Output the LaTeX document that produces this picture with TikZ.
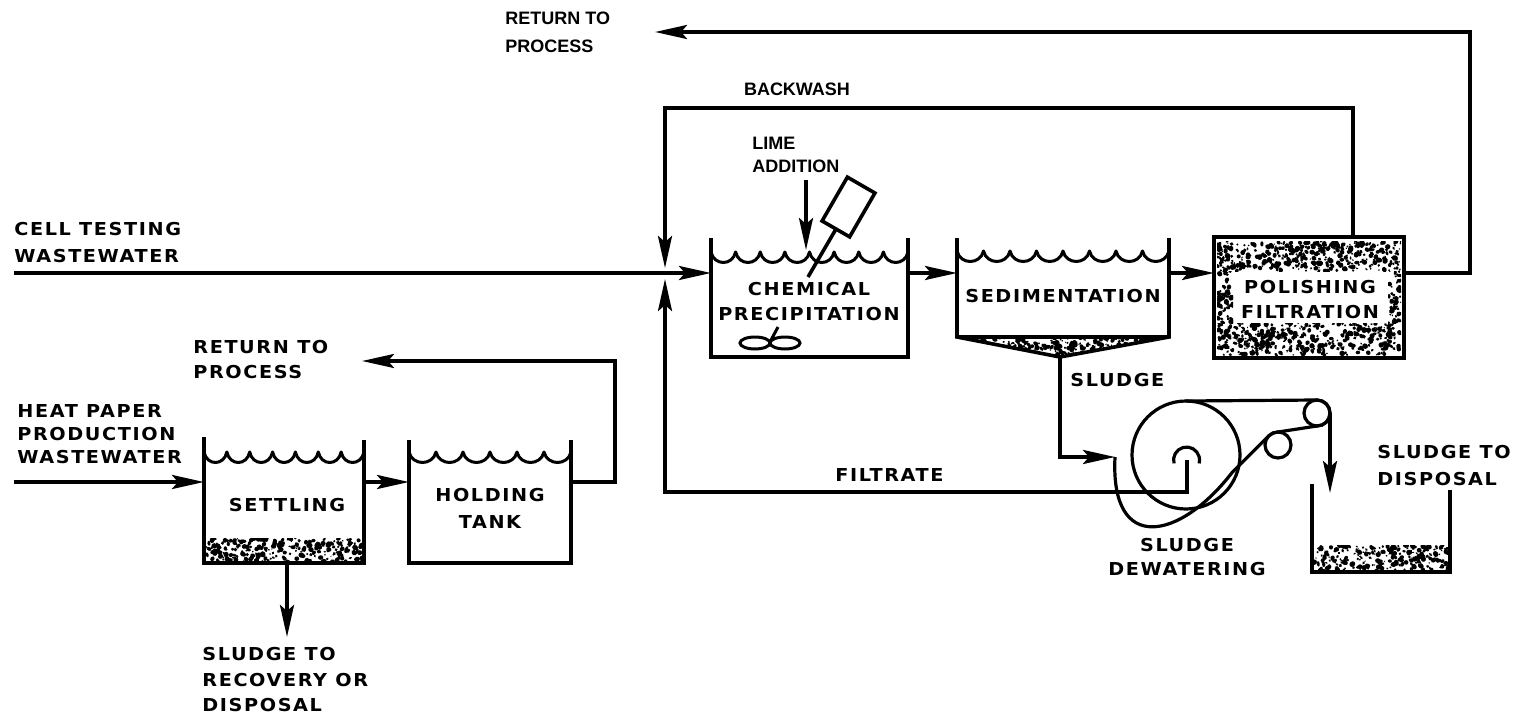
\documentclass[tikz,border=0pt]{standalone}
\usepackage{fontspec}
\usetikzlibrary{arrows.meta}
\newfontfamily\widefont{DejaVu Sans}[FakeStretch=1.08,LetterSpace=9]
\newfontfamily\plainfont{Liberation Sans}

% scalloped water surface: x0, x1, y of the cusps, number of scallops
\newcommand\wave[4]{%
  \foreach \i in {1,...,#4}{%
    \pgfmathsetmacro\wa{#1+(\i-1)*(#2-#1)/#4}%
    \pgfmathsetmacro\wb{#1+\i*(#2-#1)/#4}%
    \pgfmathsetmacro\wd{(#2-#1)/#4}%
    \draw[wavy] (\wa,#3) .. controls (\wa+0.12*\wd,#3+14) and (\wb-0.12*\wd,#3+14) .. (\wb,#3);
  }}

% speckled sludge / filter media: clip path, x0, y0, x1, y1, density
\newcommand\speckle[6]{%
  \begin{scope}
    \clip #1;
    \pgfmathtruncatemacro\cnt{#6*(#4-#2)*(#5-#3)}%
    \foreach \k in {1,...,\cnt}{%
      \pgfmathsetmacro\sx{#2+rnd*(#4-#2)}%
      \pgfmathsetmacro\sy{#3+rnd*(#5-#3)}%
      \pgfmathsetmacro\sr{0.8+2.0*rnd}%
      \pgfmathsetmacro\sq{0.5+0.8*rnd}%
      \pgfmathsetmacro\sa{360*rnd}%
      \fill[rotate around={\sa:(\sx,\sy)}] (\sx,\sy) ellipse[x radius=\sr,y radius=\sr*\sq];
    }
  \end{scope}}

\begin{document}
\begin{tikzpicture}[x=0.5pt,y=-0.5pt,
  pipe/.style={line width=1.8pt,line join=miter},
  flow/.style={pipe,-{Stealth[length=16pt,width=7pt,inset=3pt]}},
  wall/.style={line width=1.8pt,line join=miter},
  wavy/.style={line width=1.5pt,line cap=round},
  belt/.style={line width=1.6pt,line join=round},
  lbl/.style={font=\widefont\bfseries\fontsize{8.9}{12.5}\selectfont,align=left,inner sep=0pt,anchor=north west},
  clbl/.style={lbl,align=center,anchor=north},
  nlbl/.style={font=\plainfont\bfseries\fontsize{9}{14}\selectfont,align=left,inner sep=0pt,anchor=north west}]
\pgfmathsetseed{7}
\path[use as bounding box] (0,0) rectangle (1531,722);

% ---------- ports and bends ----------
\coordinate (cellIn) at (14,273);
\coordinate (chemIn) at (711,273);
\coordinate (chemOut) at (908,273);
\coordinate (sedIn) at (957,273);
\coordinate (sedOut) at (1169,273);
\coordinate (polIn) at (1214,273);
\coordinate (polOut) at (1404,273);
\coordinate (polTop) at (1353,237);
\coordinate (bwR) at (1353,108);
\coordinate (bwL) at (665,108);
\coordinate (juncTop) at (665,268);
\coordinate (juncBot) at (665,279);
\coordinate (retC) at (1470,32);
\coordinate (retTip) at (655,32);
\coordinate (limeTop) at (806,180);
\coordinate (limeTip) at (806,250);
\coordinate (sedTip) at (1060,357);
\coordinate (sludgeC) at (1060,457);
\coordinate (drumIn) at (1115,457);
\coordinate (umb) at (1187,460);
\coordinate (filtC) at (1187,492);
\coordinate (filtL) at (665,492);
\coordinate (rollR) at (1330,413);
\coordinate (dispTip) at (1330,493);
\coordinate (heatIn) at (14,482);
\coordinate (setIn) at (204,482);
\coordinate (setOut) at (364,482);
\coordinate (holdIn) at (409,482);
\coordinate (holdOut) at (571,482);
\coordinate (holdC) at (615,361);
\coordinate (rlTip) at (362,361);
\coordinate (setBot) at (287,563);
\coordinate (recTip) at (287,637);

% ---------- textures ----------
\speckle{(1217,241) rectangle (1401,271)}{1217}{241}{1401}{271}{0.075}
\speckle{(1217,323) rectangle (1401,355)}{1217}{323}{1401}{355}{0.075}
\speckle{(1217,271) rectangle (1233,323)}{1217}{271}{1233}{323}{0.075}
\speckle{(1388,271) rectangle (1401,323)}{1388}{271}{1401}{323}{0.075}
\speckle{(957,337) -- (1169,337) -- (1060,357) -- cycle}{957}{337}{1169}{357}{0.075}
\speckle{(206,538) rectangle (362,562)}{206}{538}{362}{562}{0.075}
\speckle{(1314,545) rectangle (1448,571)}{1314}{545}{1448}{571}{0.075}

% ---------- tanks ----------
% chemical precipitation
\draw[wall] (711,238) -- (711,357) -- (908,357) -- (908,238);
\wave{711}{908}{252}{8}
% lime feeder motor and shaft
\draw[pipe,rotate around={60:(848.5,207)}] (823.2,191.1) rectangle (873.8,222.9);
\draw[pipe] (836,229) -- (808,277);
% mixer propeller
\draw[line width=1.5pt] (755,343) ellipse[x radius=15,y radius=6];
\draw[line width=1.5pt] (785,343) ellipse[x radius=15,y radius=6];
\draw[line width=1.5pt] (770,342) -- (778,327);
% sedimentation
\draw[wall] (957,238) -- (957,337) -- (1060,357) -- (1169,337) -- (1169,238);
\draw[wall] (957,337) -- (1169,337);
\wave{957}{1169}{251}{8}
% polishing filter
\draw[wall] (1214,237) rectangle (1404,358);
% settling and holding
\draw[wall] (204,437) -- (204,563) -- (364,563) -- (364,440);
\wave{204}{364}{452}{7}
\draw[wall] (409,440) -- (409,563) -- (571,563) -- (571,440);
\wave{409}{571}{452}{6}
% disposal bin
\draw[wall] (1312,484) -- (1312,572) -- (1450,572) -- (1450,490);

% ---------- sludge dewatering ----------
\draw[belt] (1186,455) circle[radius=54];
\draw[belt] (1317,413) circle[radius=13];
\draw[belt] (1278,445) circle[radius=13];
\draw[belt] (1186,401) -- (1317,400) arc[start angle=270,end angle=450,radius=13]
  -- (1278,432) arc[start angle=270,end angle=225,radius=13]
  -- (1232,472.6) .. controls (1180,540) and (1110,555) .. (drumIn);
\draw[belt] (1174,463.4) arc[start angle=165,end angle=375,radius=13];

% ---------- connectors ----------
\draw[flow] (cellIn) -- (chemIn);
\draw[flow] (chemOut) -- (sedIn);
\draw[flow] (sedOut) -- (polIn);
\draw[flow] (polOut) -| (retC) -- (retTip);
\draw[flow] (polTop) -- (bwR) -- (bwL) -- (juncTop);
\draw[flow] (umb) -- (filtC) -- (filtL) -- (juncBot);
\draw[flow] (limeTop) -- (limeTip);
\draw[flow] (sedTip) -- (sludgeC) -- (drumIn);
\draw[flow] (rollR) -- (dispTip);
\draw[flow] (heatIn) -- (setIn);
\draw[flow] (setOut) -- (holdIn);
\draw[flow] (holdOut) -| (holdC) -- (rlTip);
\draw[flow] (setBot) -- (recTip);

% ---------- labels ----------
\node[nlbl] (rtop) at (505,12) {RETURN TO\\PROCESS};
\node[nlbl,anchor=north] (bw) at (797,83) {BACKWASH};
\node[nlbl,font=\plainfont\bfseries\fontsize{9}{11.5}\selectfont] (lime) at (752,137) {LIME\\ADDITION};
\node[lbl,font=\widefont\bfseries\fontsize{8.9}{13.5}\selectfont] (cell) at (14,222) {CELL TESTING\\WASTEWATER};
\node[lbl,font=\widefont\bfseries\fontsize{8.9}{11.5}\selectfont] (heat) at (17,404) {HEAT PAPER\\PRODUCTION\\WASTEWATER};
\node[lbl] (rleft) at (193,340) {RETURN TO\\PROCESS};
\node[clbl] (chem) at (809,282) {CHEMICAL\\PRECIPITATION};
\node[clbl] (sed) at (1063,289) {SEDIMENTATION};
\node[clbl] (pol) at (1310,280) {POLISHING\\FILTRATION};
\node[clbl] (set) at (287,498) {SETTLING};
\node[clbl,font=\widefont\bfseries\fontsize{8.9}{13.5}\selectfont] (hold) at (490,488) {HOLDING\\TANK};
\node[lbl] (sludge) at (1070,373) {SLUDGE};
\node[lbl] (filt) at (835,468) {FILTRATE};
\node[clbl,font=\widefont\bfseries\fontsize{8.9}{12}\selectfont] (dew) at (1187,538) {SLUDGE\\DEWATERING};
\node[lbl,font=\widefont\bfseries\fontsize{8.9}{13.5}\selectfont] (disp) at (1377,445) {SLUDGE TO\\DISPOSAL};
\node[lbl,font=\widefont\bfseries\fontsize{8.9}{12.75}\selectfont] (rec) at (202,647) {SLUDGE TO\\RECOVERY OR\\DISPOSAL};
\end{tikzpicture}
\end{document}
